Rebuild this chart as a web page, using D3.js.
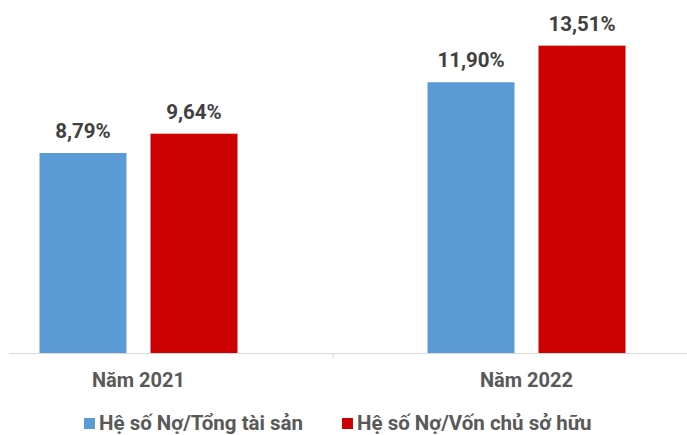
<!DOCTYPE html>
<html><head><meta charset="utf-8">
<script src="https://cdn.jsdelivr.net/npm/d3@7"></script>
<style>body{margin:0;background:#fff}svg{display:block}</style>
</head><body>
<svg id="c" width="687" height="435"></svg>
<script>
const categories = ["Năm 2021", "Năm 2022"];
const seriesNames = ["Hệ số Nợ/Tổng tài sản", "Hệ số Nợ/Vốn chủ sở hữu"];
const debtToAssets = [8.79, 11.90];
const debtToEquity = [9.64, 13.51];
const valueLabels = [["8,79%", "11,90%"], ["9,64%", "13,51%"]];
const colors = ["#5B9BD5", "#CC0000"];

const svg = d3.select("#c");
const baseY = 353;
const y = d3.scaleLinear().domain([0, 10]).range([baseY, baseY - 227.5]);
const x = d3.scaleBand().domain(categories).range([-55.5, 720.5]).padding(0);
const inner = d3.scaleBand().domain([0, 1]).range([0, 198]).paddingInner(24/111);
const series = [debtToAssets, debtToEquity];
const groupOff = (x.bandwidth() - 198) / 2;

series.forEach((vals, si) => {
  svg.selectAll(null).data(vals).enter().append("rect")
    .attr("x", (d, i) => x(categories[i]) + groupOff + inner(si))
    .attr("width", inner.bandwidth())
    .attr("y", d => y(d))
    .attr("height", d => baseY - y(d))
    .attr("fill", colors[si]);
  svg.selectAll(null).data(vals).enter().append("text")
    .attr("x", (d, i) => x(categories[i]) + groupOff + inner(si) + inner.bandwidth() / 2)
    .attr("y", d => y(d) - 15)
    .attr("text-anchor", "middle")
    .attr("font-family", "Roboto")
    .attr("font-weight", "bold")
    .attr("font-size", 20.5)
    .attr("fill", "#404040")
    .text((d, i) => valueLabels[si][i]);
});

// axis
svg.append("line").attr("x1", 9).attr("x2", 687).attr("y1", baseY + 0.5).attr("y2", baseY + 0.5)
  .attr("stroke", "#d9d9d9").attr("stroke-width", 1);
svg.append("line").attr("x1", x(categories[1]) + 0.5).attr("x2", x(categories[1]) + 0.5)
  .attr("y1", baseY).attr("y2", baseY + 6).attr("stroke", "#d9d9d9");

svg.selectAll(null).data(categories).enter().append("text")
  .attr("x", d => x(d) + x.bandwidth() / 2)
  .attr("y", 387)
  .attr("text-anchor", "middle")
  .attr("font-family", "Roboto")
  .attr("font-weight", "bold")
  .attr("font-size", 20)
  .attr("fill", "#595959")
  .text(d => d);

// legend
const legX = [84, 342];
seriesNames.forEach((n, i) => {
  svg.append("rect").attr("x", legX[i]).attr("y", 418).attr("width", 11).attr("height", 11).attr("fill", colors[i]);
  svg.append("text").attr("x", legX[i] + 15).attr("y", 430)
    .attr("font-family", "Roboto").attr("font-weight", "bold").attr("font-size", 20.5)
    .attr("fill", "#595959").text(n);
});
</script>
</body></html>
